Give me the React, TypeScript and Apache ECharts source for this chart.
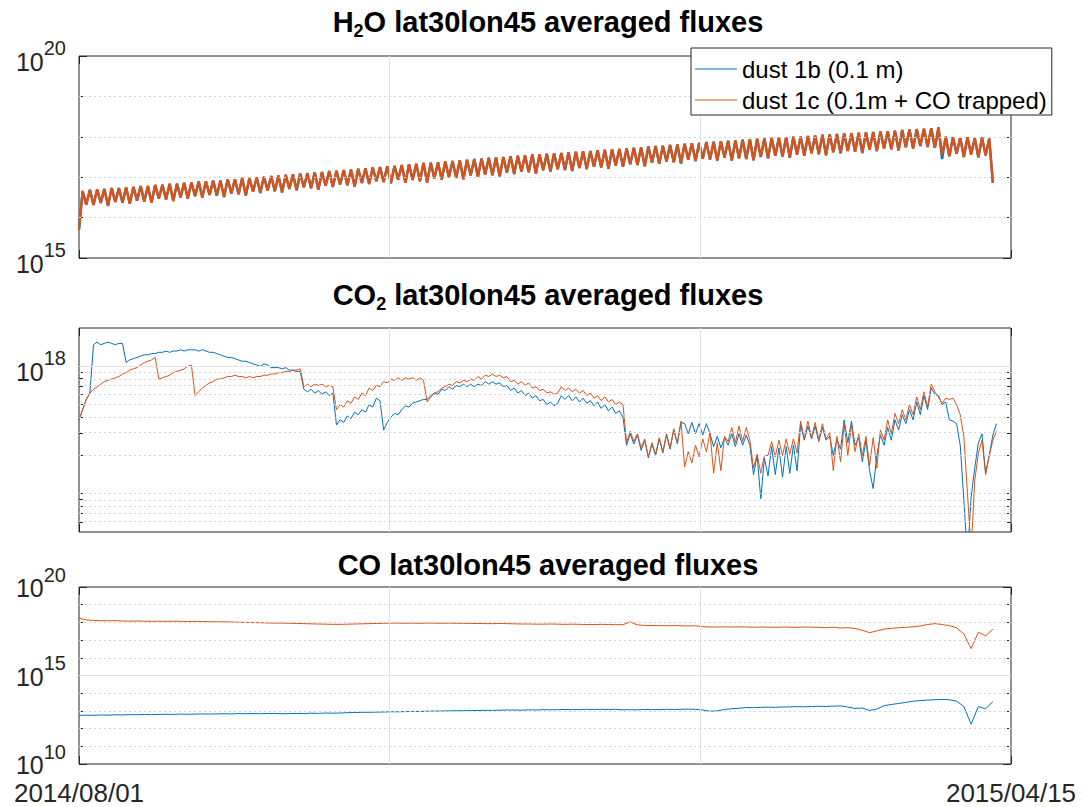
import React, { useEffect, useRef } from 'react';
import * as echarts from 'echarts';

const FONT = '"Liberation Sans", Arial, Helvetica, sans-serif';
const BLUE = '#0072BD';
const ORANGE = '#D95319';
const INK = '#262626';
const MAJOR_GRID = '#e3e3e3';
const MINOR_GRID = '#d4d4d4';

const seriesNames = ['dust 1b (0.1 m)', 'dust 1c (0.1m + CO trapped)'];
const panelTitles = [
  'H{s|2}O lat30lon45 averaged fluxes',
  'CO{s|2} lat30lon45 averaged fluxes',
  'CO lat30lon45 averaged fluxes',
];
const xTickLabels = ['2014/08/01', '2015/04/15'];
const SPAN_DAYS = 257; // 2014/08/01 .. 2015/04/15
const CO_STEP_DAYS = 2;

// log10 of the H2O flux, one sample per day from 2014/08/01
const h2oDust1c = [
  15.70, 16.66, 16.32, 16.69, 16.31, 16.70, 16.36, 16.71, 16.29, 16.73,
  16.39, 16.73, 16.37, 16.75, 16.34, 16.76, 16.42, 16.78, 16.40, 16.78,
  16.37, 16.81, 16.47, 16.81, 16.45, 16.84, 16.41, 16.84, 16.50, 16.86,
  16.47, 16.87, 16.53, 16.89, 16.50, 16.90, 16.56, 16.92, 16.54, 16.92,
  16.51, 16.95, 16.60, 16.95, 16.58, 16.98, 16.55, 16.98, 16.64, 17.00,
  16.61, 17.01, 16.67, 17.03, 16.65, 17.04, 16.62, 17.06, 16.71, 17.07,
  16.68, 17.09, 16.75, 17.10, 16.73, 17.12, 16.69, 17.13, 16.79, 17.15,
  16.76, 17.16, 16.82, 17.18, 16.80, 17.19, 16.77, 17.21, 16.86, 17.22,
  16.83, 17.24, 16.90, 17.25, 16.88, 17.27, 16.85, 17.28, 16.94, 17.30,
  16.86, 17.32, 16.93, 17.33, 16.90, 17.35, 16.87, 17.36, 16.97, 17.37,
  16.94, 17.39, 17.00, 17.40, 16.98, 17.42, 16.95, 17.43, 17.04, 17.45,
  17.01, 17.46, 17.07, 17.48, 17.05, 17.49, 17.02, 17.50, 17.11, 17.52,
  17.08, 17.53, 17.14, 17.54, 17.12, 17.56, 17.09, 17.57, 17.17, 17.58,
  17.14, 17.59, 17.20, 17.60, 17.18, 17.62, 17.15, 17.63, 17.23, 17.64,
  17.20, 17.65, 17.26, 17.67, 17.24, 17.68, 17.21, 17.69, 17.29, 17.70,
  17.26, 17.71, 17.32, 17.73, 17.30, 17.74, 17.27, 17.76, 17.36, 17.77,
  17.33, 17.78, 17.39, 17.80, 17.37, 17.81, 17.34, 17.83, 17.43, 17.84,
  17.40, 17.85, 17.46, 17.87, 17.44, 17.88, 17.41, 17.89, 17.49, 17.90,
  17.41, 17.91, 17.47, 17.93, 17.45, 17.94, 17.42, 17.95, 17.50, 17.96,
  17.47, 17.97, 17.53, 17.98, 17.51, 17.99, 17.48, 18.00, 17.56, 18.01,
  17.53, 18.02, 17.59, 18.03, 17.57, 18.05, 17.54, 18.06, 17.62, 18.07,
  17.59, 18.08, 17.65, 18.09, 17.63, 18.10, 17.60, 18.11, 17.68, 18.12,
  17.65, 18.13, 17.71, 18.14, 17.69, 18.15, 17.66, 18.17, 17.74, 18.18,
  17.71, 18.19, 17.77, 18.20, 17.75, 18.21, 17.73, 18.23, 17.55, 18.00,
  17.52, 17.99, 17.58, 17.98, 17.50, 17.99, 17.56, 17.97, 17.49, 17.98,
  17.54, 17.96, 16.86,
];
// dust 1b follows dust 1c except for the deeper dip on the day of the drop
const H2O_1B_DIP_DAY = 238;
const H2O_1B_DIP_VALUE = 17.45;
const h2oDust1b = h2oDust1c.map((v, day) => (day === H2O_1B_DIP_DAY ? H2O_1B_DIP_VALUE : v));

// log10 of the CO2 flux, one sample per day
const co2Dust1b = [
  17.58, 17.66, 17.74, 17.79, 18.17, 18.19, 18.17, 18.18, 18.19, 18.18,
  18.17, 18.18, 18.18, 18.03, 18.05, 18.06, 18.07, 18.08, 18.09, 18.09,
  18.10, 18.10, 18.11, 18.11, 18.12, 18.11, 18.12, 18.12, 18.13, 18.12,
  18.13, 18.13, 18.13, 18.12, 18.13, 18.12, 18.11, 18.11, 18.10, 18.09,
  18.08, 18.07, 18.07, 18.06, 18.05, 18.04, 18.04, 18.03, 18.02, 18.01,
  18.00, 18.02, 18.01, 17.99, 17.99, 17.99, 17.98, 17.99, 17.97, 17.97,
  17.96, 17.96, 17.82, 17.80, 17.82, 17.79, 17.81, 17.78, 17.80, 17.77,
  17.79, 17.54, 17.58, 17.56, 17.61, 17.59, 17.64, 17.62, 17.66, 17.64,
  17.70, 17.68, 17.75, 17.73, 17.50, 17.56, 17.60, 17.63, 17.62, 17.66,
  17.69, 17.68, 17.71, 17.72, 17.73, 17.74, 17.74, 17.77, 17.79, 17.78,
  17.82, 17.81, 17.84, 17.82, 17.85, 17.84, 17.86, 17.84, 17.86, 17.84,
  17.86, 17.85, 17.88, 17.86, 17.88, 17.86, 17.87, 17.84, 17.85, 17.81,
  17.83, 17.79, 17.81, 17.77, 17.79, 17.75, 17.77, 17.73, 17.74, 17.70,
  17.72, 17.69, 17.71, 17.77, 17.74, 17.77, 17.73, 17.76, 17.72, 17.75,
  17.71, 17.73, 17.69, 17.72, 17.67, 17.70, 17.65, 17.68, 17.63, 17.65,
  17.60, 17.38, 17.47, 17.39, 17.46, 17.34, 17.42, 17.28, 17.39, 17.30,
  17.43, 17.32, 17.46, 17.35, 17.50, 17.39, 17.56, 17.55, 17.47, 17.56,
  17.47, 17.55, 17.46, 17.55, 17.47, 17.37, 17.45, 17.36, 17.44, 17.38,
  17.47, 17.37, 17.47, 17.38, 17.46, 17.38, 17.15, 17.30, 16.96, 17.28,
  17.14, 17.37, 17.15, 17.36, 17.13, 17.37, 17.16, 17.38, 17.18, 17.54,
  17.42, 17.53, 17.43, 17.53, 17.41, 17.52, 17.42, 17.45, 17.30, 17.43,
  17.35, 17.58, 17.40, 17.57, 17.38, 17.44, 17.25, 17.42, 17.18, 17.04,
  17.30, 17.46, 17.38, 17.52, 17.42, 17.58, 17.50, 17.62, 17.55, 17.66,
  17.58, 17.72, 17.62, 17.77, 17.66, 17.83, 17.78, 17.77, 17.70, 17.72,
  17.58, 17.57, 17.55, 17.38, 16.95, 16.50, 16.97, 17.20, 17.40, 17.47,
  17.16, 17.30, 17.46, 17.55,
];
const co2Dust1c = [
  17.58, 17.66, 17.74, 17.79, 17.82, 17.84, 17.86, 17.88, 17.89, 17.90,
  17.91, 17.92, 17.94, 17.95, 17.97, 17.98, 17.99, 18.01, 18.03, 18.04,
  18.05, 18.07, 17.90, 17.91, 17.92, 17.93, 17.95, 17.96, 17.97, 17.98,
  18.00, 18.01, 17.77, 17.80, 17.83, 17.85, 17.87, 17.88, 17.90, 17.90,
  17.91, 17.92, 17.92, 17.93, 17.92, 17.92, 17.91, 17.92, 17.91, 17.92,
  17.92, 17.93, 17.93, 17.94, 17.94, 17.95, 17.95, 17.96, 17.96, 17.97,
  17.97, 17.98, 17.84, 17.86, 17.84, 17.86, 17.85, 17.86, 17.84, 17.85,
  17.84, 17.66, 17.70, 17.68, 17.73, 17.71, 17.76, 17.74, 17.79, 17.77,
  17.83, 17.81, 17.85, 17.84, 17.88, 17.87, 17.90, 17.89, 17.91, 17.89,
  17.91, 17.90, 17.91, 17.89, 17.91, 17.89, 17.72, 17.76, 17.79, 17.80,
  17.83, 17.84, 17.86, 17.85, 17.88, 17.87, 17.89, 17.88, 17.90, 17.89,
  17.92, 17.90, 17.93, 17.92, 17.94, 17.92, 17.93, 17.91, 17.92, 17.88,
  17.89, 17.86, 17.88, 17.85, 17.87, 17.83, 17.84, 17.81, 17.82, 17.79,
  17.80, 17.78, 17.79, 17.84, 17.81, 17.83, 17.80, 17.82, 17.79, 17.81,
  17.77, 17.79, 17.75, 17.77, 17.73, 17.76, 17.72, 17.74, 17.70, 17.72,
  17.70, 17.40, 17.49, 17.41, 17.47, 17.36, 17.43, 17.29, 17.40, 17.31,
  17.44, 17.33, 17.47, 17.36, 17.51, 17.40, 17.57, 17.21, 17.33, 17.24,
  17.38, 17.29, 17.43, 17.33, 17.48, 17.16, 17.40, 17.18, 17.45, 17.41,
  17.52, 17.40, 17.53, 17.41, 17.52, 17.42, 17.20, 17.31, 17.16, 17.30,
  17.30, 17.41, 17.29, 17.42, 17.30, 17.43, 17.31, 17.43, 17.32, 17.57,
  17.43, 17.57, 17.44, 17.56, 17.42, 17.55, 17.43, 17.48, 17.18, 17.45,
  17.25, 17.55, 17.30, 17.54, 17.33, 17.47, 17.30, 17.45, 17.22, 17.44,
  17.20, 17.50, 17.42, 17.58, 17.47, 17.63, 17.55, 17.66, 17.58, 17.70,
  17.62, 17.76, 17.66, 17.80, 17.68, 17.86, 17.80, 17.76, 17.71, 17.75,
  17.74, 17.75, 17.70, 17.62, 17.45, 17.00, 16.55, 17.10, 17.32, 17.42,
  17.15, 17.30, 17.42, 17.49,
];

// log10 of the CO flux, one sample every CO_STEP_DAYS days
const coDust1b = [
  12.74, 12.76, 12.75, 12.77, 12.76, 12.78, 12.77, 12.79, 12.78, 12.80,
  12.79, 12.80, 12.81, 12.80, 12.82, 12.81, 12.82, 12.83, 12.82, 12.83,
  12.84, 12.83, 12.85, 12.84, 12.85, 12.84, 12.86, 12.85, 12.84, 12.85,
  12.86, 12.85, 12.87, 12.86, 12.88, 12.87, 12.88, 12.90, 12.91, 12.92,
  12.92, 12.93, 12.94, 12.95, 12.95, 12.96, 12.97, 12.97, 12.98, 12.99,
  12.99, 13.00, 13.01, 13.01, 13.02, 13.02, 13.03, 13.03, 13.04, 13.05,
  13.05, 13.04, 13.06, 13.05, 13.07, 13.06, 13.07, 13.08, 13.07, 13.08,
  13.09, 13.08, 13.09, 13.08, 13.09, 13.06, 13.07, 13.06, 13.08, 13.07,
  13.08, 13.09, 13.08, 13.09, 13.10, 13.09, 13.05, 12.98, 13.00, 13.08,
  13.12, 13.15, 13.19, 13.18, 13.20, 13.21, 13.20, 13.22, 13.23, 13.24,
  13.23, 13.25, 13.26, 13.25, 13.27, 13.28, 13.22, 13.14, 13.16, 13.02,
  13.10, 13.30, 13.36, 13.42, 13.48, 13.55, 13.58, 13.61, 13.63, 13.65,
  13.63, 13.55, 13.25, 12.25, 13.25, 13.12, 13.52,
];
const coDust1c = [
  18.24, 18.14, 18.11, 18.10, 18.09, 18.10, 18.08, 18.07, 18.08, 18.07,
  18.06, 18.07, 18.06, 18.07, 18.06, 18.05, 18.06, 18.05, 18.04, 18.04,
  18.03, 18.02, 18.01, 18.00, 17.99, 17.98, 17.97, 17.96, 17.96, 17.95,
  17.94, 17.93, 17.92, 17.91, 17.90, 17.89, 17.89, 17.90, 17.91, 17.92,
  17.93, 17.94, 17.95, 17.96, 17.96, 17.95, 17.96, 17.95, 17.96, 17.96,
  17.95, 17.96, 17.95, 17.95, 17.94, 17.94, 17.93, 17.93, 17.94, 17.93,
  17.92, 17.91, 17.91, 17.90, 17.90, 17.91, 17.90, 17.89, 17.90, 17.89,
  17.88, 17.88, 17.89, 17.88, 17.87, 17.87, 18.02, 17.86, 17.83, 17.82,
  17.82, 17.81, 17.82, 17.81, 17.80, 17.81, 17.76, 17.74, 17.74, 17.75,
  17.74, 17.75, 17.74, 17.73, 17.74, 17.73, 17.72, 17.74, 17.73, 17.72,
  17.74, 17.73, 17.72, 17.70, 17.73, 17.68, 17.70, 17.66, 17.55, 17.42,
  17.52, 17.62, 17.66, 17.70, 17.72, 17.75, 17.80, 17.88, 17.93, 17.88,
  17.82, 17.70, 17.35, 16.52, 17.45, 17.24, 17.62,
];

interface Panel {
  title: string;
  titleY: number;
  top: number;
  height: number;
  min: number;
  max: number;
  majors: number[];
  minors: number[];
  labelPadding: number[];
  lineWidth: number;
  blue: number[];
  orange: number[];
  step: number;
}

// decade ticks that carry no label
const decades = (from: number, to: number, skip: number[]) => {
  const out: number[] = [];
  for (let e = from; e <= to; e++) if (!skip.includes(e)) out.push(e);
  return out;
};
// 1..9 x 10^n positions inside a log range, in exponent units
const logMinors = (min: number, max: number, majors: number[]) => {
  const out: number[] = [];
  for (let n = Math.floor(min); n < Math.ceil(max); n++) {
    for (let k = 1; k <= 9; k++) {
      const v = n + Math.log10(k);
      if (v > min + 1e-6 && v < max - 1e-6 && !majors.some((m) => Math.abs(m - v) < 1e-6)) out.push(v);
    }
  }
  return out;
};

const CO2_MIN = Math.log10(5e16);
const CO2_MAX = Math.log10(2e18);

const panels: Panel[] = [
  {
    title: panelTitles[0], titleY: 22, top: 56, height: 202, min: 15, max: 20,
    majors: [15, 20], minors: decades(16, 19, []), labelPadding: [0, 0, 0, 0], lineWidth: 2.4,
    blue: h2oDust1b, orange: h2oDust1c, step: 1,
  },
  {
    title: panelTitles[1], titleY: 295, top: 328, height: 204, min: CO2_MIN, max: CO2_MAX,
    majors: [18], minors: logMinors(CO2_MIN, CO2_MAX, [18]), labelPadding: [0, 0, 0, 0], lineWidth: 1,
    blue: co2Dust1b, orange: co2Dust1c, step: 1,
  },
  {
    title: panelTitles[2], titleY: 565, top: 587, height: 177, min: 10, max: 20,
    majors: [10, 15, 20], minors: decades(11, 19, [15]), labelPadding: [0, 0, 9, 0], lineWidth: 1,
    blue: coDust1b, orange: coDust1c, step: CO_STEP_DAYS,
  },
];

const GRID_LEFT = 79;
const GRID_WIDTH = 932;
const TITLE_X = 548;
const xTicks = [0, SPAN_DAYS / 3, (2 * SPAN_DAYS) / 3, SPAN_DAYS];

const expLabelRich = {
  b: { fontSize: 25, fontFamily: FONT, color: INK, lineHeight: 36, verticalAlign: 'bottom' },
  s: { fontSize: 20, fontFamily: FONT, color: INK, lineHeight: 18, verticalAlign: 'top' },
};

function buildOption() {
  const grid: any[] = [];
  const xAxis: any[] = [];
  const yAxis: any[] = [];
  const series: any[] = [];

  panels.forEach((p, i) => {
    grid.push({
      left: GRID_LEFT, width: GRID_WIDTH, top: p.top, height: p.height,
      show: true, borderColor: INK, borderWidth: 1, backgroundColor: 'transparent',
    });

    const xBase = {
      type: 'value', gridIndex: i, min: 0, max: SPAN_DAYS,
      axisLine: { show: false },
      splitLine: { show: false },
      axisTick: { show: true, inside: true, length: 8, customValues: xTicks, lineStyle: { color: INK, width: 1 } },
    };
    xAxis.push({
      ...xBase,
      position: 'bottom',
      axisLabel: i === panels.length - 1
        ? {
            show: true, customValues: [0, SPAN_DAYS], margin: 16,
            fontSize: 26, fontFamily: FONT, color: INK,
            formatter: (v: number) => (v < SPAN_DAYS / 2 ? xTickLabels[0] : xTickLabels[1]),
          }
        : { show: false },
    });
    xAxis.push({ ...xBase, position: 'top', axisLabel: { show: false } });

    const yBase = {
      type: 'value', gridIndex: i, min: p.min, max: p.max,
      axisLine: { show: false },
      splitLine: { show: false },
    };
    const majorTick = { show: true, inside: true, length: 8, customValues: p.majors, lineStyle: { color: INK, width: 1 } };
    const minorTick = { show: true, inside: true, length: 4, customValues: p.minors, lineStyle: { color: INK, width: 1 } };
    yAxis.push({
      ...yBase, position: 'left', axisTick: majorTick,
      axisLabel: {
        show: true, customValues: p.majors, margin: 13, padding: p.labelPadding,
        formatter: (v: number) => `{b|10}{s|${Math.round(v)}}`,
        rich: expLabelRich,
      },
    });
    yAxis.push({ ...yBase, position: 'left', axisTick: minorTick, axisLabel: { show: false } });
    yAxis.push({ ...yBase, position: 'right', axisTick: majorTick, axisLabel: { show: false } });
    yAxis.push({ ...yBase, position: 'right', axisTick: minorTick, axisLabel: { show: false } });

    const xi = 2 * i;
    const yi = 4 * i;

    const gridLines: any[] = [
      { xAxis: SPAN_DAYS / 3, lineStyle: { color: MAJOR_GRID, type: 'solid', width: 1 } },
      { xAxis: (2 * SPAN_DAYS) / 3, lineStyle: { color: MAJOR_GRID, type: 'solid', width: 1 } },
      ...p.majors
        .filter((v) => v > p.min + 1e-6 && v < p.max - 1e-6)
        .map((v) => ({ yAxis: v, lineStyle: { color: MAJOR_GRID, type: 'solid', width: 1 } })),
      ...p.minors.map((v) => ({ yAxis: v, lineStyle: { color: MINOR_GRID, type: [2, 3], width: 1 } })),
    ];
    series.push({
      type: 'line', xAxisIndex: xi, yAxisIndex: yi, z: 1, silent: true,
      data: [[0, p.min]], symbol: 'none', lineStyle: { opacity: 0 },
      markLine: { silent: true, symbol: ['none', 'none'], label: { show: false }, animation: false, data: gridLines },
    });

    [
      { name: seriesNames[0], color: BLUE, values: p.blue },
      { name: seriesNames[1], color: ORANGE, values: p.orange },
    ].forEach((s, k) => {
      series.push({
        type: 'line', name: s.name, xAxisIndex: xi, yAxisIndex: yi, z: 2 + k, silent: true,
        data: s.values.map((v, idx) => [idx * p.step, v]),
        symbol: 'none', showSymbol: false, clip: true,
        lineStyle: { color: s.color, width: p.lineWidth },
        itemStyle: { color: s.color },
      });
    });
  });

  return {
    animation: false,
    backgroundColor: '#ffffff',
    textStyle: { fontFamily: FONT },
    grid, xAxis, yAxis, series,
    legend: {
      data: seriesNames,
      orient: 'vertical',
      left: 691, top: 48,
      padding: [7, 5, 1, 4],
      itemGap: 3,
      icon: 'rect',
      itemWidth: 42, itemHeight: 1,
      backgroundColor: '#ffffff',
      borderColor: INK, borderWidth: 1, borderRadius: 0,
      selectedMode: false,
      textStyle: { fontFamily: FONT, fontSize: 24, color: '#000000', lineHeight: 28 },
      z: 10,
    },
    graphic: panels.map((p) => ({
      type: 'text', x: TITLE_X, y: p.titleY, z: 10,
      style: {
        text: p.title,
        fill: '#000000',
        fontSize: 29, fontWeight: 'bold', fontFamily: FONT, lineHeight: 30,
        align: 'center', verticalAlign: 'middle',
        rich: { s: { fontSize: 18, fontWeight: 'bold', fontFamily: FONT, fill: '#000000', lineHeight: 18, padding: [15, 0, 0, 0], verticalAlign: 'top' } },
      },
    })),
  };
}

export default function App() {
  const ref = useRef<HTMLDivElement>(null);
  useEffect(() => {
    if (!ref.current) return;
    const chart = echarts.init(ref.current, null, { renderer: 'svg' });
    chart.setOption(buildOption() as any);
    return () => chart.dispose();
  }, []);
  return (
    <div
      ref={ref}
      style={{ position: 'fixed', left: 0, top: 0, width: 1085, height: 807, background: '#ffffff' }}
    />
  );
}
